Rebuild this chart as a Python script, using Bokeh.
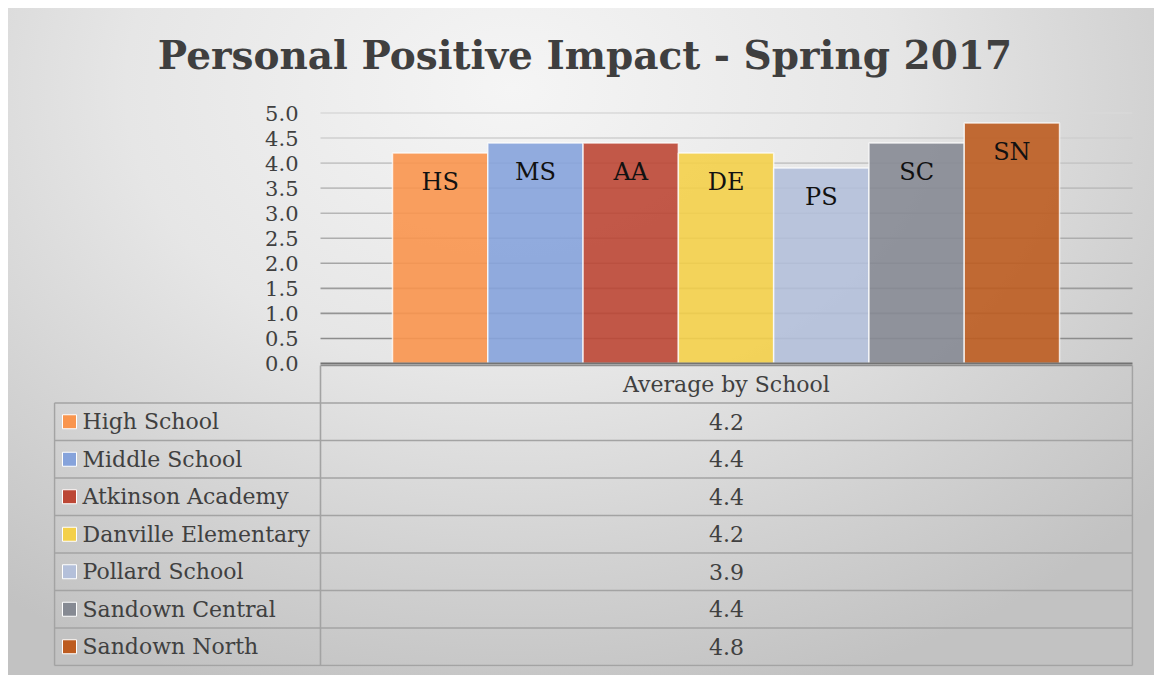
from bokeh.plotting import figure
from bokeh.models import ColumnDataSource, Range1d, FixedTicker, PrintfTickFormatter, Div
from bokeh.layouts import column
from bokeh.core.properties import value
from bokeh.embed import file_html
from bokeh.resources import INLINE

# ---------------- data ----------------
title_text = "Personal Positive Impact - Spring 2017"
series_label = "Average by School"
schools = ["High School", "Middle School", "Atkinson Academy", "Danville Elementary",
           "Pollard School", "Sandown Central", "Sandown North"]
abbr = ["HS", "MS", "AA", "DE", "PS", "SC", "SN"]
averages = [4.2, 4.4, 4.4, 4.2, 3.9, 4.4, 4.8]
colors = ["#F9954E", "#86A3DB", "#BC4735", "#F4D04A", "#B4C0DA", "#868A93", "#BD5C20"]
y_ticks = [0.0, 0.5, 1.0, 1.5, 2.0, 2.5, 3.0, 3.5, 4.0, 4.5, 5.0]

FONT = "DejaVu Serif"
TXT = "#404040"
W = 1146          # layout width
TITLE_H = 94
FIG_H = 573

# ---------------- layout geometry (figure pixel coords) ----------------
MB_L, MB_R, MB_T, MB_B = 45, 21, 8, 9
frame_w = W - MB_L - MB_R            # 1080
frame_h = FIG_H - MB_T - MB_B        # 556
zero_px = 253                        # distance of value 0 below frame top
px_per_unit = 50.1                   # vertical scale of the bar chart
left_col = 266                       # width of table's label column
table_w = 1078
bar_px = 95.29                       # width of one bar in pixels
bars_left = 339                      # left edge of first bar from frame left
row_h = 37.5
table_top = zero_px + 2              # header row top from frame top
n = len(schools)

y_end = zero_px / px_per_unit
y_start = y_end - frame_h / px_per_unit
x_start = -0.5 - bars_left / bar_px
x_end = x_start + frame_w / bar_px
ty_end = -table_top / row_h
ty_start = ty_end + frame_h / row_h

# ---------------- title ----------------
title = Div(
    text=f'<div style="box-sizing:border-box;font-family:\'{FONT}\';font-weight:bold;'
         f'font-size:39px;line-height:1;color:#3f3f3f;text-align:center;width:{W - 8}px;'
         f'padding-left:16px;padding-top:28px;white-space:nowrap;">{title_text}</div>',
    width=W, height=TITLE_H, margin=0)

# ---------------- figure ----------------
p = figure(width=W, height=FIG_H, output_backend="svg", toolbar_location=None,
           x_range=Range1d(x_start, x_end), y_range=Range1d(y_start, y_end),
           min_border_left=MB_L, min_border_right=MB_R, min_border_top=MB_T,
           min_border_bottom=MB_B)
p.extra_x_ranges = {"tx": Range1d(-1, frame_w - 1)}
p.extra_y_ranges = {"ty": Range1d(ty_start, ty_end)}
p.background_fill_color = None
p.border_fill_color = None
p.outline_line_color = None
p.xaxis.visible = False
p.grid.visible = False

ax = p.yaxis[0]
ax.ticker = FixedTicker(ticks=y_ticks)
ax.formatter = PrintfTickFormatter(format="%.1f")
ax.axis_line_color = None
ax.major_tick_line_color = None
ax.minor_tick_line_color = None
ax.major_tick_out = 0
ax.major_tick_in = 0
ax.major_label_standoff = -(left_col - 21)
ax.major_label_text_font = FONT
ax.major_label_text_font_size = "21px"
ax.major_label_text_color = TXT

# gridlines (lighter towards the top), only over the plot column
gt = y_ticks[1:]
gcols = []
for i in range(len(gt)):
    c = int(0x8c + (0xd8 - 0x8c) * i / (len(gt) - 1))
    gcols.append("#%02x%02x%02x" % (c, c, c))
p.segment(x0=[left_col] * len(gt), x1=[table_w] * len(gt), y0=gt, y1=gt,
          line_color=gcols, line_width=1.6, x_range_name="tx")

# bars
xs = list(range(n))
src = ColumnDataSource(dict(x=xs, abbr=abbr, avg=averages, color=colors))
p.vbar(x="x", top="avg", width=1.0, source=src, fill_color="color", fill_alpha=0.9,
       line_color="white", line_width=1.5, line_alpha=0.75)
p.text(x="x", y="avg", text="abbr", source=src, text_align="center",
       text_baseline="middle", y_offset=29, text_font=value(FONT),
       text_font_size="24px", text_color="#111111")

# axis line at 0
p.segment(x0=[left_col], x1=[table_w], y0=[0], y1=[0], line_color="#737373",
          line_width=2, x_range_name="tx")

# ---------------- data table ----------------
rows = list(range(1, n + 1))
LC = "#a3a3a3"
p.segment(x0=[0] * (n + 1), x1=[table_w] * (n + 1), y0=rows + [n + 1], y1=rows + [n + 1],
          line_color=LC, line_width=1.6, x_range_name="tx", y_range_name="ty")
p.segment(x0=[left_col], x1=[table_w], y0=[0], y1=[0], line_color="#8e8e8e",
          line_width=1.6, x_range_name="tx", y_range_name="ty")
p.segment(x0=[0, left_col, table_w], x1=[0, left_col, table_w], y0=[1, 0, 0],
          y1=[n + 1] * 3, line_color=LC, line_width=1.6, x_range_name="tx", y_range_name="ty")

val_x = (left_col + table_w) / 2
tsrc = ColumnDataSource(dict(y=[r + 0.5 for r in rows], name=schools, color=colors,
                             val=["%.1f" % v for v in averages]))
p.rect(x=15, y="y", width=14, height=14, width_units="screen", height_units="screen",
       source=tsrc, fill_color="color", line_color="white", line_width=1,
       x_range_name="tx", y_range_name="ty")
p.text(x=28, y="y", text="name", source=tsrc, text_align="left", text_baseline="middle",
       text_font=value(FONT), text_font_size="22px", text_color=TXT,
       x_range_name="tx", y_range_name="ty")
p.text(x=val_x, y="y", text="val", source=tsrc, text_align="center", text_baseline="middle",
       text_font=value(FONT), text_font_size="22px", text_color=TXT,
       x_range_name="tx", y_range_name="ty")
p.text(x=[val_x], y=[0.5], text=[series_label], text_align="center", text_baseline="middle",
       text_font=value(FONT), text_font_size="22px", text_color=TXT,
       x_range_name="tx", y_range_name="ty")

layout = column(title, p, spacing=0, width=W, height=TITLE_H + FIG_H,
                styles={"margin": "8px 0 0 8px",
                        "background": "radial-gradient(ellipse 75% 95% at 44% 12%, #f5f5f5 0%, #e6e6e6 45%, #d2d2d2 75%, #c2c2c2 100%)"})

open("out.html", "w").write(file_html(layout, INLINE))
